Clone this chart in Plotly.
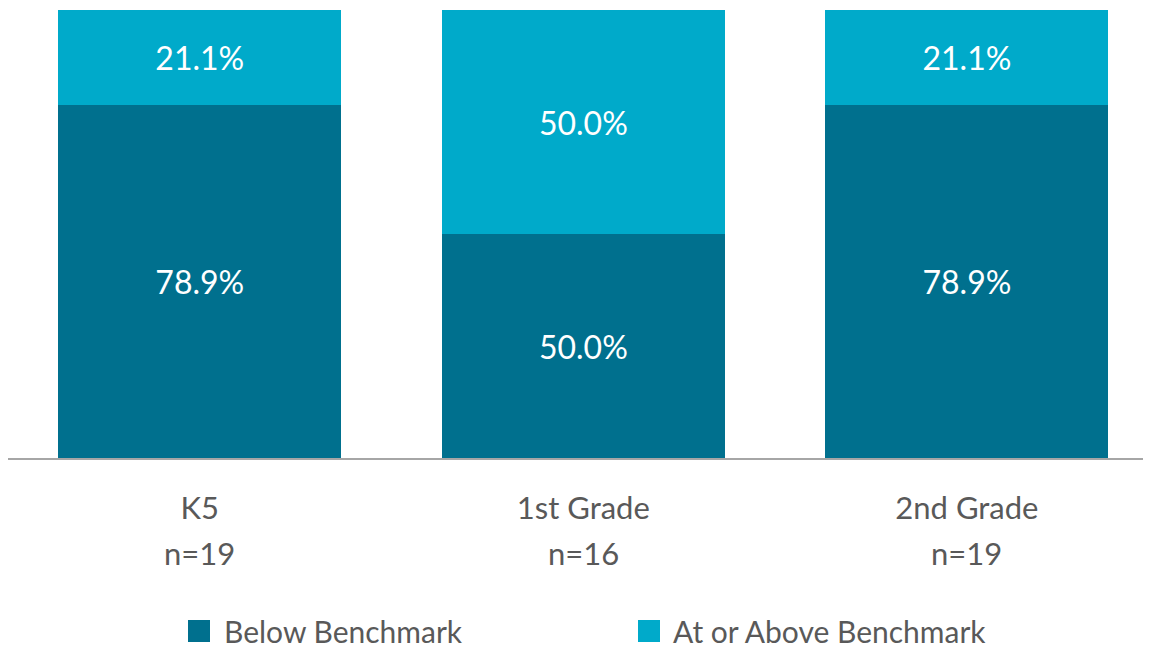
import plotly.graph_objects as go

categories = ["K5", "1st Grade", "2nd Grade"]
n_labels = ["n=19", "n=16", "n=19"]
below = [78.9, 50.0, 78.9]
above = [21.1, 50.0, 21.1]
series_names = ["Below Benchmark", "At or Above Benchmark"]
colors = ["#00708E", "#00AACA"]

FONT = "Lato"
GRAY = "#595959"
W, H = 1151, 647
OFF = 8              # page body margin in the browser
PLOT_L, PLOT_R, PLOT_T, PLOT_B = 8, 1151, 10, 458   # target plot area on screen
PW, PH = PLOT_R - PLOT_L, PLOT_B - PLOT_T

fig = go.Figure()
for name, vals, col in zip(series_names, [below, above], colors):
    fig.add_trace(go.Bar(
        x=categories, y=vals, name=name, marker_color=col, marker_line_width=0,
        width=0.738, text=[f"{v:.1f}%" for v in vals], textposition="inside",
        insidetextanchor="middle", textfont=dict(color="white", size=32, family=FONT),
        showlegend=False))

for c, n in zip(categories, n_labels):
    fig.add_annotation(x=c, y=0, xref="x", yref="paper", yanchor="middle",
                       yshift=-95, text=n, showarrow=False,
                       font=dict(size=31, color=GRAY, family=FONT))

def px(x):
    return (x - PLOT_L) / PW
def py(y):
    return (PLOT_B - y) / PH

# manual legend (plotly caps legend symbol size)
legend_pos = [(188, 222), (638, 671)]
for (sx, tx), name, col in zip(legend_pos, series_names, colors):
    fig.add_shape(type="rect", xref="paper", yref="paper",
                  x0=px(sx), x1=px(sx + 22), y0=py(642), y1=py(620),
                  fillcolor=col, line_width=0)
    fig.add_annotation(x=px(tx), y=py(631), xref="paper", yref="paper",
                       xanchor="left", yanchor="middle", text=name, showarrow=False,
                       font=dict(size=30, color=GRAY, family=FONT))

fig.update_layout(
    barmode="stack", width=W, height=H,
    margin=dict(l=PLOT_L - OFF, r=W - (PLOT_R - OFF), t=PLOT_T - OFF,
                b=H - (PLOT_B - OFF), autoexpand=False),
    plot_bgcolor="white", paper_bgcolor="white",
    showlegend=False,
    xaxis=dict(range=[-0.5, 2.48], showline=True, linecolor="#A6A6A6", linewidth=2,
               ticks="", tickfont=dict(size=31, color=GRAY, family=FONT),
               ticklabelstandoff=22),
    yaxis=dict(range=[0, 100], visible=False),
)
fig.write_html("out.html")
